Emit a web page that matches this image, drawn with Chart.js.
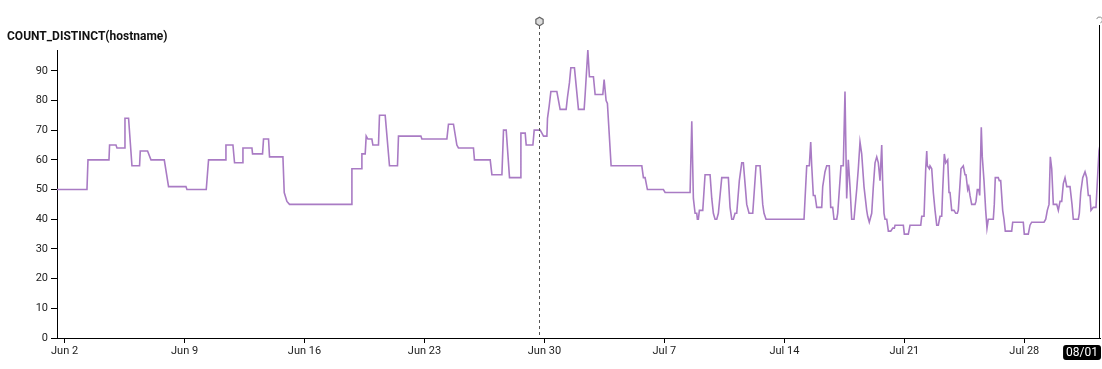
<!DOCTYPE html>
<html>
<head>
<meta charset="utf-8">
<script src="https://cdn.jsdelivr.net/npm/chart.js@4/dist/chart.umd.min.js"></script>
<style>
  html, body { margin: 0; padding: 0; background: #fff; }
  #wrap { width: 1102px; height: 369px; position: relative; }
</style>
</head>
<body>
<div id="wrap"><canvas id="c"></canvas></div>
<script>
// ---- data (x = days since Jun 1 00:00, y = distinct hostnames) ----
const days = [
  0.557, 2.306, 2.365, 3.590, 3.625, 3.998, 4.056, 4.482, 4.523, 4.733, 4.931, 5.375, 5.416, 5.841, 6.040, 6.816,
  7.066, 8.081, 8.139, 9.266, 9.400, 10.374, 10.415, 10.823, 10.917, 11.383, 11.407, 11.932, 11.967, 12.550, 12.608,
  12.900, 12.958, 13.740, 13.816, 13.973, 14.125, 17.724, 17.765, 18.307, 18.348, 18.541, 18.599, 18.698, 18.931,
  18.989, 19.316, 19.375, 19.707, 19.958, 20.425, 20.483, 21.790, 21.848, 23.306, 23.400, 23.692, 23.889, 23.982,
  24.858, 24.916, 25.835, 25.934, 26.518, 26.611, 26.768, 26.961, 27.585, 27.626, 27.877, 27.935, 28.326, 28.402,
  28.752, 28.851, 28.945, 29.143, 29.178, 29.274, 29.374, 29.724, 29.916, 30.266, 30.342, 30.459, 30.540, 30.750,
  30.984, 31.316, 31.375, 31.532, 31.625, 31.858, 31.957, 32.406, 32.482, 32.598, 32.674, 32.890, 34.681, 34.774,
  34.873, 35.007, 35.940, 36.040, 37.498, 37.597, 37.690, 37.789, 37.888, 37.923, 37.981, 38.040, 38.238, 38.372,
  38.664, 38.763, 38.856, 38.955, 39.054, 39.148, 39.346, 39.731, 39.830, 39.929, 40.022, 40.121, 40.220, 40.372,
  40.512, 40.606, 40.705, 40.804, 40.938, 41.154, 41.346, 41.580, 41.737, 41.813, 41.930, 44.146, 44.304, 44.455,
  44.537, 44.596, 44.689, 44.788, 44.887, 45.179, 45.237, 45.371, 45.470, 45.621, 45.703, 45.820, 45.896, 46.054,
  46.112, 46.304, 46.439, 46.537, 46.636, 46.730, 46.829, 46.928, 47.063, 47.220, 47.314, 47.413, 47.512, 47.646,
  47.804, 47.862, 47.956, 48.096, 48.191, 48.290, 48.389, 48.482, 48.581, 48.680, 48.739, 48.814, 48.873, 48.972,
  49.067, 49.207, 49.324, 49.417, 49.458, 49.942, 50.000, 50.233, 50.333, 50.957, 51.015, 51.149, 51.248, 51.307,
  51.342, 51.458, 51.499, 51.598, 51.692, 51.791, 51.890, 51.983, 52.082, 52.181, 52.239, 52.333, 52.414, 52.531,
  52.607, 52.665, 52.764, 52.898, 52.997, 53.090, 53.149, 53.306, 53.440, 53.539, 53.597, 53.696, 53.755, 53.831,
  53.930, 54.122, 54.181, 54.257, 54.339, 54.397, 54.490, 54.549, 54.648, 54.747, 54.823, 54.899, 55.191, 55.249,
  55.307, 55.482, 55.541, 55.622, 55.739, 55.815, 55.891, 56.264, 56.323, 56.941, 57.000, 57.233, 57.332, 57.431,
  58.151, 58.250, 58.343, 58.442, 58.518, 58.600, 58.693, 58.892, 58.985, 59.085, 59.184, 59.277, 59.376, 59.475,
  59.667, 59.784, 59.860, 60.152, 60.210, 60.292, 60.409, 60.543, 60.642, 60.735, 60.834, 60.892, 61.026, 61.184,
  61.283, 61.359, 61.417
];
const hosts = [
  50, 50, 60, 60, 65, 65, 64, 64, 74, 74, 58, 58, 63, 63, 60, 60,
  51, 51, 50, 50, 60, 60, 65, 65, 59, 59, 64, 64, 62, 62, 67,
  67, 61, 61, 49, 46, 45, 45, 57, 57, 62, 62, 68, 67, 67,
  65, 65, 75, 75, 58, 58, 68, 68, 67, 67, 72, 72, 65, 64,
  64, 60, 60, 55, 55, 70, 70, 54, 54, 69, 69, 65, 65, 70,
  70, 69, 68, 68, 74, 78, 83, 83, 77, 77, 81, 86, 91, 91,
  77, 77, 82, 97, 88, 88, 82, 82, 87, 80, 79, 58, 58, 54,
  54, 50, 50, 49, 49, 73, 47, 42, 42, 40, 40, 43, 43, 55,
  55, 47, 42, 40, 40, 42, 54, 54, 44, 40, 40, 42, 42, 53,
  59, 59, 52, 45, 42, 42, 58, 58, 45, 42, 40, 40, 58, 58,
  66, 58, 48, 48, 44, 44, 51, 56, 58, 58, 44, 44, 40, 40,
  42, 58, 58, 83, 47, 60, 51, 40, 40, 50, 57, 66, 62, 51,
  43, 41, 39, 42, 51, 59, 61, 59, 53, 65, 52, 42, 40, 40,
  36, 36, 37, 37, 38, 38, 35, 35, 38, 38, 41, 41, 57, 63,
  58, 57, 58, 57, 49, 43, 38, 38, 41, 41, 50, 62, 59, 60,
  49, 49, 43, 43, 42, 42, 43, 57, 58, 55, 55, 50, 51, 48,
  45, 45, 46, 50, 50, 48, 71, 61, 53, 43, 37, 40, 40, 45,
  54, 54, 53, 53, 43, 40, 36, 36, 39, 39, 35, 35, 38, 39,
  39, 40, 43, 45, 61, 57, 45, 45, 43, 46, 46, 52, 54, 51,
  51, 45, 40, 40, 42, 49, 54, 56, 54, 48, 48, 43, 44, 44,
  55, 63, 65
];
const xTickDays = [1, 8, 15, 22, 29, 36, 43, 50, 57];
const xTickLabels = ['Jun 2', 'Jun 9', 'Jun 16', 'Jun 23', 'Jun 30', 'Jul 7', 'Jul 14', 'Jul 21', 'Jul 28'];
const yTicks = [0, 10, 20, 30, 40, 50, 60, 70, 80, 90];
const annotationDays = [28.66];
const hoverLabel = '08/01';
const xMin = 0.557, xMax = 61.417, yMax = 97;

const points = days.map((d, i) => ({ x: d, y: hosts[i] }));
const FONT = 'Roboto, "Liberation Sans", Arial, sans-serif';

const overlay = {
  id: 'overlay',
  afterDatasetsDraw(chart) {
    const { ctx, chartArea, scales } = chart;
    ctx.save();
    // annotation dashed line with hexagon marker
    annotationDays.forEach(d => {
      const x = Math.round(scales.x.getPixelForValue(d)) + 0.5;
      ctx.strokeStyle = '#555';
      ctx.lineWidth = 1;
      ctx.setLineDash([3, 3]);
      ctx.beginPath();
      ctx.moveTo(x, 26);
      ctx.lineTo(x, chartArea.bottom);
      ctx.stroke();
      ctx.setLineDash([]);
      const cy = 21.5, r = 4.2;
      ctx.beginPath();
      for (let k = 0; k < 6; k++) {
        const a = Math.PI / 6 + k * Math.PI / 3;
        const px = x + r * Math.cos(a), py = cy + r * Math.sin(a);
        if (k === 0) ctx.moveTo(px, py); else ctx.lineTo(px, py);
      }
      ctx.closePath();
      ctx.fillStyle = '#ddd';
      ctx.fill();
      ctx.strokeStyle = '#666';
      ctx.lineWidth = 1.2;
      ctx.stroke();
    });
    // hover crosshair at right end
    const hx = chartArea.right - 0.5;
    ctx.strokeStyle = '#000';
    ctx.lineWidth = 1;
    ctx.beginPath();
    ctx.moveTo(hx, 25);
    ctx.lineTo(hx, chartArea.bottom);
    ctx.stroke();
    // small icon at top of crosshair
    ctx.strokeStyle = '#888';
    ctx.lineWidth = 1;
    ctx.beginPath();
    ctx.arc(hx, 20, 3, Math.PI * 1.1, Math.PI * 0.4);
    ctx.stroke();
    // hover label box
    ctx.font = '12px ' + FONT;
    const tw = ctx.measureText(hoverLabel).width;
    const bw = tw + 6, bh = 15;
    const bx = chartArea.right - bw + 1, by = 345;
    ctx.fillStyle = '#000';
    ctx.beginPath();
    if (ctx.roundRect) ctx.roundRect(bx, by, bw, bh, 3); else ctx.rect(bx, by, bw, bh);
    ctx.fill();
    ctx.fillStyle = '#fff';
    ctx.textBaseline = 'middle';
    ctx.textAlign = 'left';
    ctx.fillText(hoverLabel, bx + 3, by + bh / 2 + 0.5);
    ctx.restore();
  }
};

new Chart(document.getElementById('c'), {
  type: 'line',
  data: {
    datasets: [{
      data: points,
      borderColor: '#a97bc4',
      borderWidth: 1.6,
      pointRadius: 0,
      tension: 0,
      fill: false
    }]
  },
  options: {
    responsive: true,
    maintainAspectRatio: false,
    animation: false,
    events: [],
    layout: { padding: { left: 7, right: 2, top: 0, bottom: 0 } },
    plugins: {
      legend: { display: false },
      tooltip: { enabled: false },
      title: {
        display: true,
        text: 'COUNT_DISTINCT(hostname)',
        align: 'start',
        color: '#111',
        font: { family: FONT, size: 12, weight: 'bold' },
        padding: { top: 30, bottom: 5.6 }
      }
    },
    scales: {
      x: {
        type: 'linear',
        min: xMin,
        max: xMax,
        afterBuildTicks(scale) { scale.ticks = xTickDays.map(v => ({ value: v })); },
        afterFit(scale) { scale.height = 31; },
        ticks: {
          autoSkip: false,
          maxRotation: 0,
          color: '#222',
          padding: 2,
          font: { family: FONT, size: 11 },
          callback: (v) => { const i = xTickDays.indexOf(v); return i >= 0 ? xTickLabels[i] : ''; }
        },
        grid: { display: true, drawOnChartArea: false, drawTicks: true, tickLength: 5, color: '#000' },
        border: { display: true, color: '#000', width: 1 }
      },
      y: {
        type: 'linear',
        min: 0,
        max: yMax,
        afterBuildTicks(scale) { scale.ticks = yTicks.map(v => ({ value: v })); },
        afterFit(scale) { scale.width = 50; },
        ticks: {
          color: '#222',
          padding: 3,
          font: { family: FONT, size: 11 },
          callback: (v) => String(v)
        },
        grid: { display: true, drawOnChartArea: false, drawTicks: true, tickLength: 6, color: '#000' },
        border: { display: true, color: '#000', width: 1 }
      }
    }
  },
  plugins: [overlay]
});
</script>
</body>
</html>
